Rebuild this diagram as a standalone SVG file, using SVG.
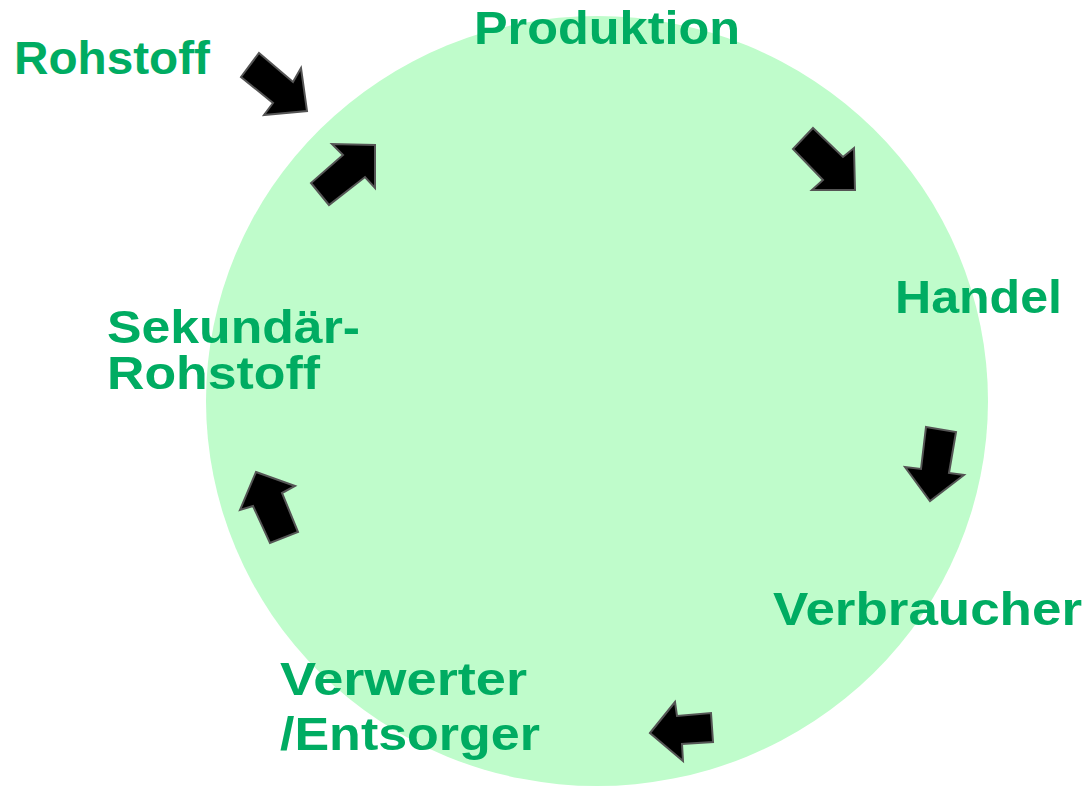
<svg xmlns="http://www.w3.org/2000/svg" width="1086" height="786" viewBox="0 0 1086 786">
<style>
.lbl{font-family:"Liberation Sans","DejaVu Sans",Arial,sans-serif;font-weight:bold;font-size:46px;fill:#00AC62}
.arr{fill:#000;stroke:#555;stroke-width:2;stroke-linejoin:miter}
</style>
<rect width="1086" height="786" fill="#fff"/>
<g id="cycle">
<ellipse cx="597" cy="401" rx="391" ry="385" fill="#BFFCCB"/>
</g>
<g id="connectors">
<polygon class="arr" points="259,53 293,82 301,68 307,111 264,115 273,103 241,77"/>
<polygon class="arr" points="375,145 375,188 365,177 329,205 311,183 343,155 332,144"/>
<polygon class="arr" points="813,128 843,157 854,148 855,190 812,190 823,180 793,149"/>
<polygon class="arr" points="926,427 956,432 949,473 964,475 930,501 905,467 921,469"/>
<polygon class="arr" points="650,733 675,702 677,716 711,713 713,742 682,744 683,761"/>
<polygon class="arr" points="256,472 295,486 282,493 298,532 270,543 253,506 240,510"/>
</g>
<g id="rohstoff"><text class="lbl" x="14" y="74" textLength="196" lengthAdjust="spacingAndGlyphs">Rohstoff</text></g>
<g id="produktion"><text class="lbl" x="474" y="44" textLength="266" lengthAdjust="spacingAndGlyphs">Produktion</text></g>
<g id="handel"><text class="lbl" x="895" y="313" textLength="167" lengthAdjust="spacingAndGlyphs">Handel</text></g>
<g id="verbraucher"><text class="lbl" x="773" y="625" textLength="309" lengthAdjust="spacingAndGlyphs">Verbraucher</text></g>
<g id="verwerter"><text class="lbl" x="280" y="695" textLength="247" lengthAdjust="spacingAndGlyphs">Verwerter</text><text class="lbl" x="280" y="750" textLength="260" lengthAdjust="spacingAndGlyphs">/Entsorger</text></g>
<g id="sekundaer"><text class="lbl" x="107" y="343" textLength="253" lengthAdjust="spacingAndGlyphs">Sekundär-</text><text class="lbl" x="107" y="389" textLength="213" lengthAdjust="spacingAndGlyphs">Rohstoff</text></g>
</svg>
